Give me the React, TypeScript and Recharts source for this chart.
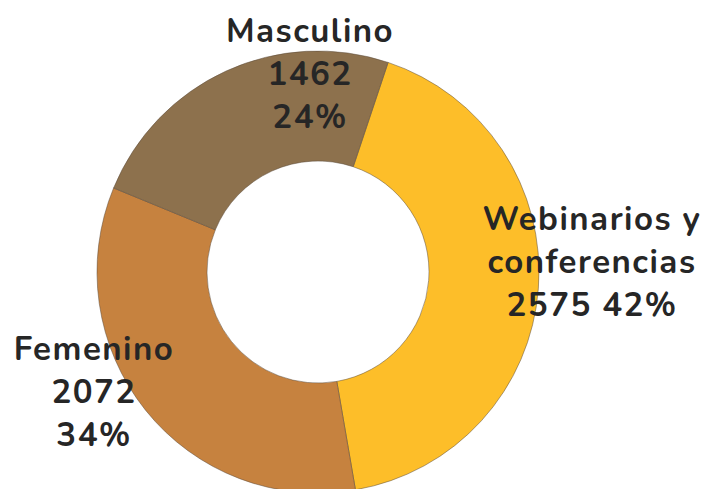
import { Cell, Pie, PieChart } from "recharts";

const categories = ["Webinarios y conferencias", "Femenino", "Masculino"];
const values = [2575, 2072, 1462];
const percents = ["42%", "34%", "24%"];
const labelLines = [
  ["Webinarios y", "conferencias", "2575 42%"],
  ["Femenino", "2072", "34%"],
  ["Masculino", "1462", "24%"]
];
const colors = ["#FDBE29", "#C6823F", "#8D714D"];

// first-line baseline of each label block, relative to the pie centre (layout only)
const labelOffsets = [
  { dx: 274, dy: -42 },
  { dx: -224, dy: 88 },
  { dx: -8, dy: -230 }
];

const data = categories.map((name, i) => ({ name, value: values[i], pct: percents[i] }));

function SliceLabel(props: any) {
  const { cx, cy, index } = props;
  const lines = labelLines[index];
  const off = labelOffsets[index];
  const lineH = 43;
  return (
    <text
      textAnchor="middle"
      fill="#262626"
      fontFamily="Nunito, Lato, 'Open Sans', sans-serif"
      fontWeight={700}
      fontSize={33}
      letterSpacing={1.5}
    >
      {lines.map((t, j) => (
        <tspan key={j} x={cx + off.dx} y={cy + off.dy + j * lineH}>
          {t}
        </tspan>
      ))}
    </text>
  );
}

export default function App() {
  return (
    <div style={{ position: "absolute", left: 0, top: 0, width: 707, height: 489, background: "#fff" }}>
      <PieChart width={707} height={489} margin={{ top: 0, right: 0, bottom: 0, left: 0 }}>
        <Pie
          data={data}
          dataKey="value"
          nameKey="name"
          cx={318}
          cy={272}
          innerRadius={111}
          outerRadius={221}
          startAngle={71.5}
          endAngle={-288.5}
          stroke="#5a4a3a"
          strokeWidth={0.5}
          label={<SliceLabel />}
          labelLine={false}
          isAnimationActive={false}
        >
          {data.map((d, i) => (
            <Cell key={d.name} fill={colors[i]} />
          ))}
        </Pie>
      </PieChart>
    </div>
  );
}
